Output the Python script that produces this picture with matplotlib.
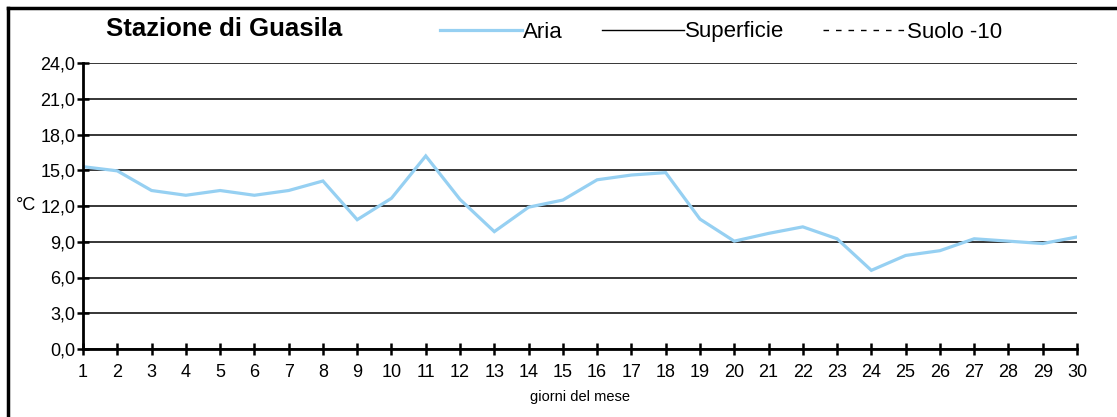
import matplotlib
matplotlib.use("Agg")
import matplotlib.pyplot as plt
from matplotlib.ticker import FuncFormatter, MultipleLocator
from matplotlib.lines import Line2D

plt.rcParams['font.family'] = ['Liberation Sans', 'DejaVu Sans']

days = list(range(1, 31))
aria = [15.3, 14.95, 13.3, 12.9, 13.3, 12.9, 13.3, 14.1, 10.85, 12.65,
        16.2, 12.55, 9.85, 11.9, 12.5, 14.2, 14.6, 14.8, 10.9, 9.05,
        9.7, 10.25, 9.25, 6.6, 7.85, 8.25, 9.25, 9.05, 8.85, 9.4]
superficie = []
suolo = []
series_labels = ["Aria", "Superficie", "Suolo -10"]
title = "Stazione di Guasila"
xlabel = "giorni del mese"
ylabel = "°C"

W, H = 1117, 417
fig = plt.figure(figsize=(W / 100, H / 100), dpi=100)
ax = fig.add_axes([83 / W, 1 - 349 / H, (1077 - 83) / W, (349 - 63) / H])

ax.plot(days, aria, color='#96D0F2', lw=2.3, solid_joinstyle='miter', zorder=3, label=series_labels[0])
ax.plot(days[:len(superficie)], superficie, color='black', lw=1.0, label=series_labels[1])
ax.plot(days[:len(suolo)], suolo, color='black', lw=1.0, ls=(0, (3.5, 4)), label=series_labels[2])

ax.set_xlim(1, 30)
ax.set_ylim(0, 24)
ax.set_xticks(days)
ax.yaxis.set_major_locator(MultipleLocator(3))
ax.yaxis.set_major_formatter(FuncFormatter(lambda v, _: f"{v:.1f}".replace('.', ',')))
ax.grid(axis='y', color='black', lw=1.1)
ax.set_axisbelow(True)
for s in ['top', 'right']:
    ax.spines[s].set_visible(False)
for s in ['left', 'bottom']:
    ax.spines[s].set_linewidth(2.0)
    ax.spines[s].set_zorder(4)
ax.tick_params(axis='both', direction='inout', length=9, width=1.8, labelsize=13, color='black')
ax.tick_params(axis='x', pad=6)
ax.tick_params(axis='y', pad=1)

fig.text(580 / W, 1 - 397 / H, xlabel, ha='center', va='center', fontsize=10.5)
fig.text(26 / W, 1 - 205 / H, ylabel, ha='center', va='center', fontsize=13)
fig.text(224 / W, 1 - 29 / H, title, ha='center', va='center', fontsize=18.5, fontweight='bold')

handles = [Line2D([], [], color='#96D0F2', lw=2.3),
           Line2D([], [], color='black', lw=1.0),
           Line2D([], [], color='black', lw=1.0, ls=(0, (4, 5)))]
leg = fig.legend(handles, series_labels, loc='center left', bbox_to_anchor=(440 / W, 1 - 32 / H),
                 ncol=3, frameon=False, fontsize=16, handlelength=3.7, handletextpad=0.05,
                 columnspacing=1.75, borderpad=0, borderaxespad=0)

fig.add_artist(Line2D([8 / W, 8 / W], [0, 1 - 8 / H], color='black', lw=2.5, transform=fig.transFigure))
fig.add_artist(Line2D([8 / W, 1], [1 - 8 / H, 1 - 8 / H], color='black', lw=2.5, transform=fig.transFigure))

fig.savefig("out.png", dpi=100)
